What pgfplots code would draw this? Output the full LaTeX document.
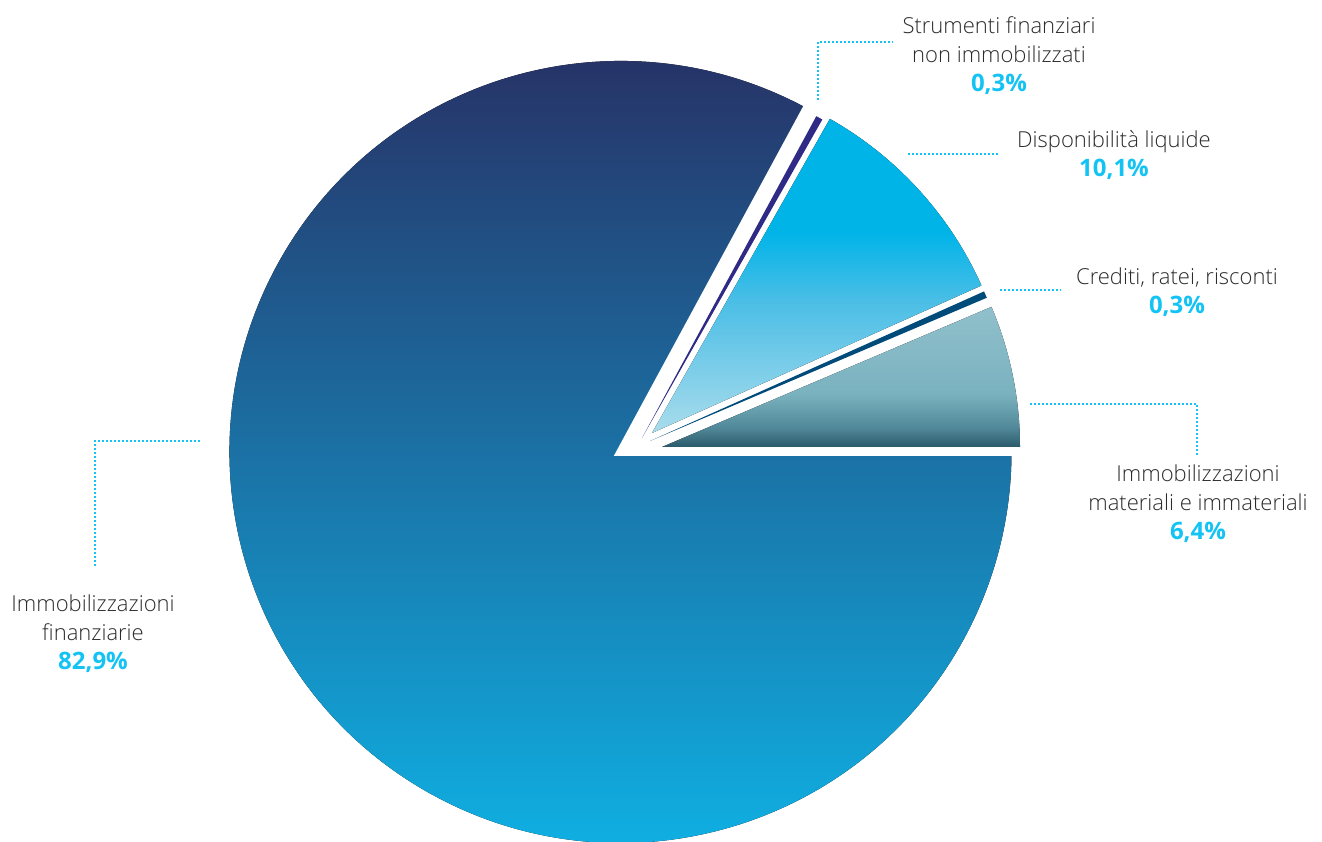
\documentclass[border=0pt]{standalone}
\usepackage{pgfplots}
\pgfplotsset{compat=1.18}
\usepackage{fontspec}
\setmainfont{Open Sans}[UprightFont={* Light}, BoldFont={* Bold}]

\definecolor{mainTop}{HTML}{282B5F}
\definecolor{mainMid}{HTML}{1D6A9E}
\definecolor{mainBot}{HTML}{0EB7EA}
\definecolor{dispTop}{HTML}{00B4E8}
\definecolor{dispMid}{HTML}{4BBEE6}
\definecolor{dispBot}{HTML}{A9DCEC}
\definecolor{matTop}{HTML}{90C0CB}
\definecolor{matMid}{HTML}{7AB2BF}
\definecolor{matLow}{HTML}{52899A}
\definecolor{matBot}{HTML}{2B5B6B}
\definecolor{strCol}{HTML}{2E2A85}
\definecolor{credCol}{HTML}{004B7A}
\definecolor{cyanTxt}{HTML}{12C3F4}
\definecolor{txt}{HTML}{2B2B2B}

\pgfdeclareverticalshading{dispsh}{100bp}{color(0bp)=(dispBot); color(25bp)=(dispBot); color(46bp)=(dispMid); color(57bp)=(dispTop); color(100bp)=(dispTop)}
\pgfdeclareverticalshading{matsh}{100bp}{color(0bp)=(matBot); color(25bp)=(matBot); color(32bp)=(matLow); color(44bp)=(matMid); color(75bp)=(matTop); color(100bp)=(matTop)}

% data (percentages)
\def\vFin{82.9}
\def\vStr{0.3}
\def\vDisp{10.1}
\def\vCred{0.3}
\def\vMat{6.4}

\newcommand{\pct}[1]{{\fontsize{24}{29}\selectfont\bfseries\textcolor{cyanTxt}{#1}}}

\begin{document}
\begin{tikzpicture}
% cumulative angles (counter-clockwise from the positive x direction)
\pgfmathsetmacro{\aMat}{3.6*\vMat}
\pgfmathsetmacro{\aCred}{\aMat+3.6*\vCred}
\pgfmathsetmacro{\aDisp}{\aCred+3.6*\vDisp}
\pgfmathsetmacro{\aStr}{\aDisp+3.6*\vStr}
\pgfmathsetmacro{\aFin}{\aStr+3.6*\vFin}
\begin{axis}[width=1322pt,height=841pt,scale only axis,
  xmin=0,xmax=1322,ymin=0,ymax=841,hide axis,clip=true]
% main slice
\fill[top color=mainTop, middle color=mainMid, bottom color=mainBot]
  (axis cs:620.5,389) -- ++(\aStr:391pt) arc[start angle=\aStr, end angle=\aFin, radius=391pt] -- cycle;
\draw[white, line width=8pt] ([shift={(\aStr:420pt)}]axis cs:620.5,389) -- (axis cs:620.5,389) -- ++(0:420pt);
% exploded slices
\fill[shading=matsh] (axis cs:662,394) -- ++(0:358pt) arc[start angle=0, end angle=\aMat, radius=358pt] -- cycle;
\fill[credCol] (axis cs:650,400) -- ++(\aMat:366pt) arc[start angle=\aMat, end angle=\aCred, radius=366pt] -- cycle;
\fill[shading=dispsh] (axis cs:652,408) -- ++(\aCred:361pt) arc[start angle=\aCred, end angle=\aDisp, radius=361pt] -- cycle;
\fill[strCol] (axis cs:642,403) -- ++(\aDisp:366pt) arc[start angle=\aDisp, end angle=\aStr, radius=366pt] -- cycle;
% leader lines
\begin{scope}[cyanTxt, line width=2pt, dash pattern=on 2pt off 2pt]
\draw (axis cs:818,741) -- (axis cs:818,799) -- (axis cs:893,799);
\draw (axis cs:908,687) -- (axis cs:998,687);
\draw (axis cs:1000,551) -- (axis cs:1061,551);
\draw (axis cs:1030,437) -- (axis cs:1197,437) -- (axis cs:1197,386);
\draw (axis cs:200,400) -- (axis cs:95,400) -- (axis cs:95,274);
\end{scope}
% labels
\begin{scope}[every node/.style={align=center, text=txt, font=\fontsize{22}{29}\selectfont}]
\node at (axis cs:999,785) {Strumenti finanziari\\non immobilizzati\\\pct{0,3\%}};
\node at (axis cs:1114,686) {Disponibilità liquide\\\pct{10,1\%}};
\node at (axis cs:1177,549) {Crediti, ratei, risconti\\\pct{0,3\%}};
\node at (axis cs:1198,337) {Immobilizzazioni\\materiali e immateriali\\\pct{6,4\%}};
\node at (axis cs:93,207) {Immobilizzazioni\\finanziarie\\\pct{82,9\%}};
\end{scope}
\end{axis}
\pgfresetboundingbox
\path[use as bounding box] (current axis.south west) rectangle (current axis.north east);
\end{tikzpicture}
\end{document}
